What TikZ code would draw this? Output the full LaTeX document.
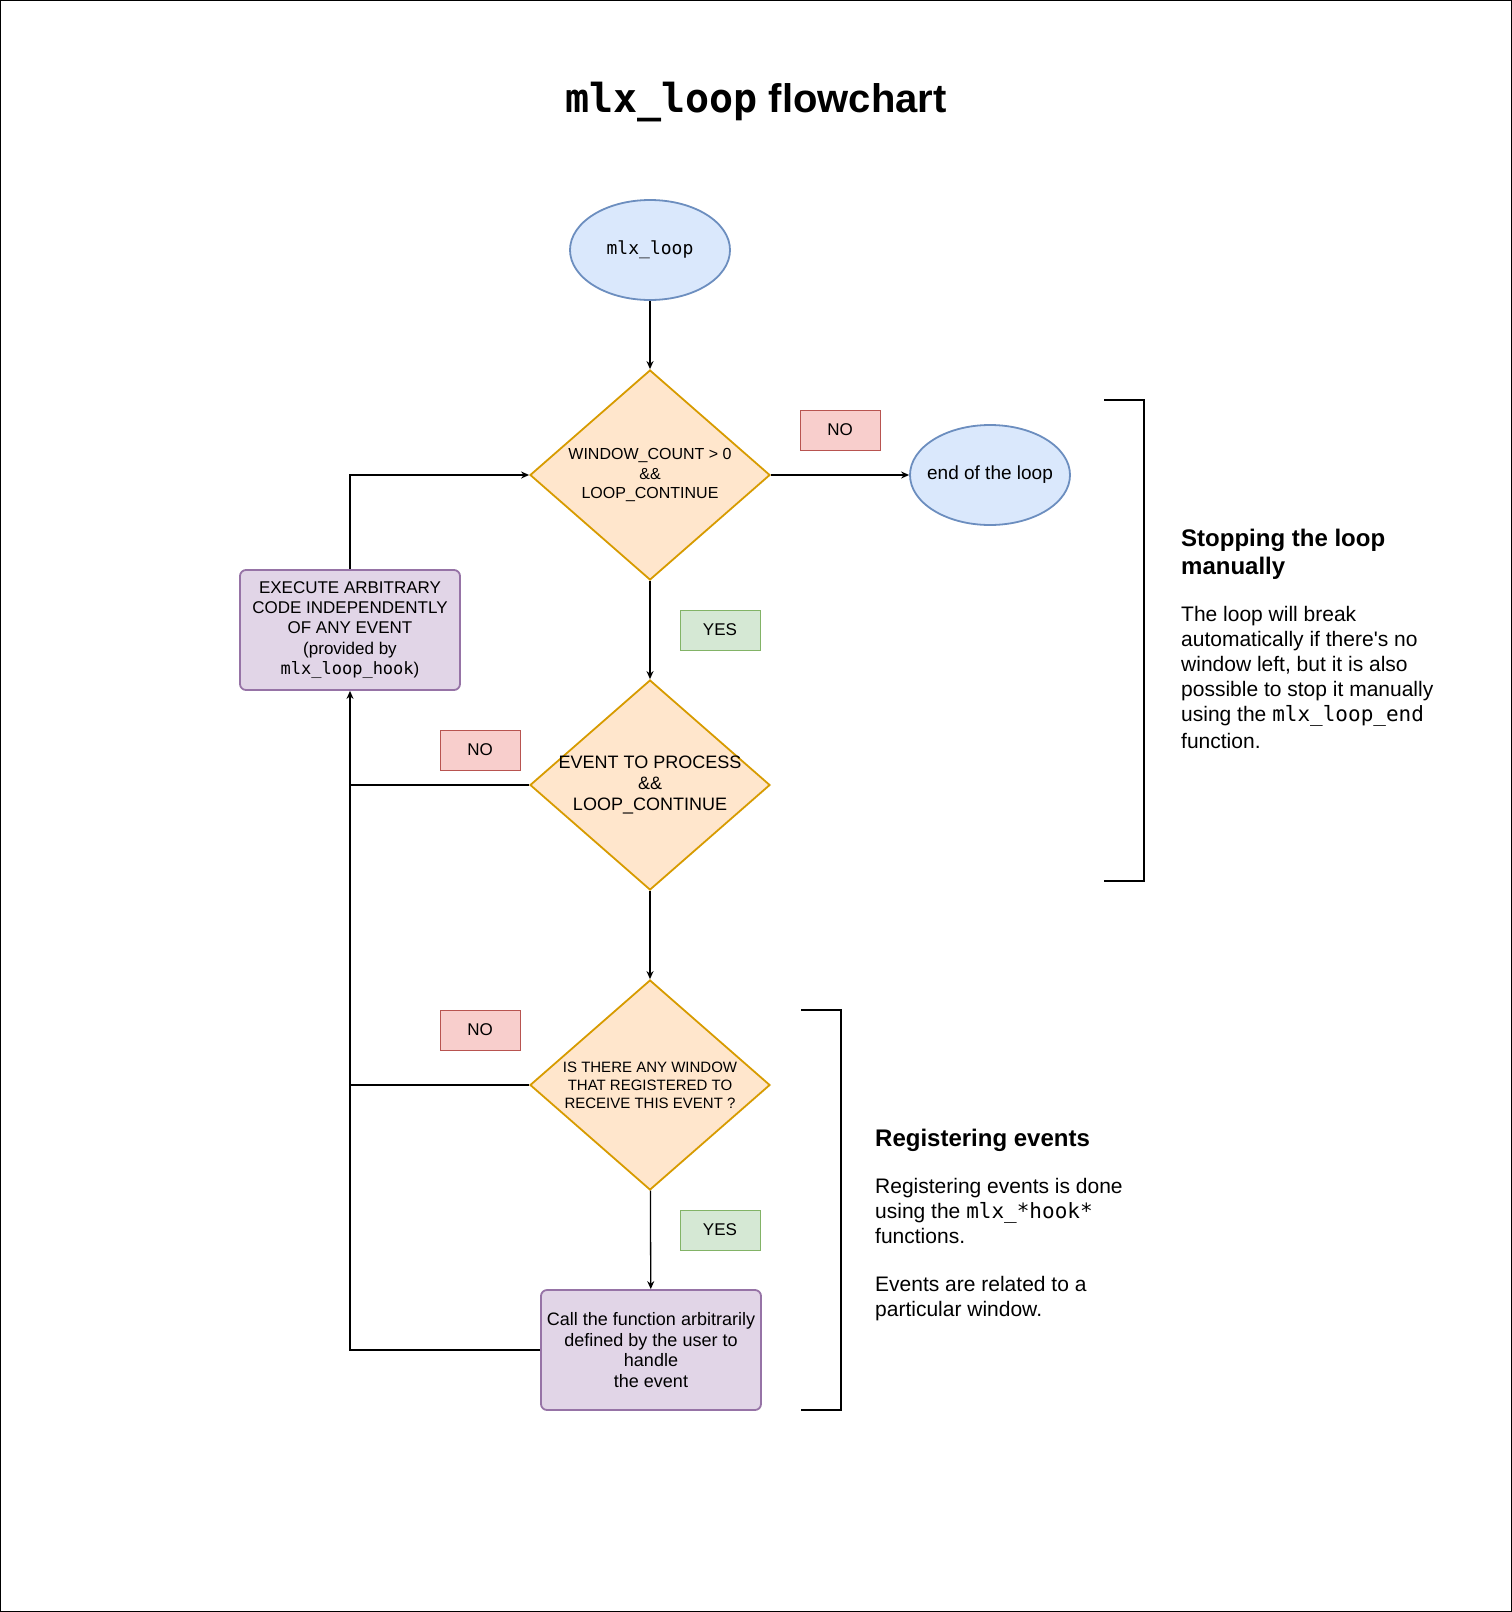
\documentclass[tikz,border=0pt]{standalone}
\usepackage{fontspec}
\setmainfont{Liberation Sans}
\setmonofont{DejaVu Sans Mono}
\usetikzlibrary{shapes.geometric,arrows.meta}
\definecolor{startFill}{HTML}{DAE8FC}
\definecolor{startLine}{HTML}{6C8EBF}
\definecolor{testFill}{HTML}{FFE6CC}
\definecolor{testLine}{HTML}{D79B00}
\definecolor{taskFill}{HTML}{E1D5E7}
\definecolor{taskLine}{HTML}{9673A6}
\definecolor{noFill}{HTML}{F8CECC}
\definecolor{noLine}{HTML}{B85450}
\definecolor{yesFill}{HTML}{D5E8D4}
\definecolor{yesLine}{HTML}{82B366}

\tikzset{
  terminal/.style={ellipse, draw=startLine, fill=startFill, line width=1.8pt,
    minimum width=160pt, minimum height=100pt, inner sep=0pt, inner xsep=-12pt},
  decision/.style={diamond, draw=testLine, fill=testFill, line width=1.8pt,
    minimum width=240pt, minimum height=210pt, aspect=1.14, inner sep=-8pt, align=center},
  task/.style={rectangle, rounded corners=6pt, draw=taskLine, fill=taskFill, line width=1.8pt,
    minimum width=220pt, minimum height=120pt, inner sep=0pt, align=center,
    font=\fontsize{17pt}{20.4pt}\selectfont},
  nobox/.style={draw=noLine, fill=noFill, line width=1pt, minimum width=80pt, minimum height=40pt,
    font=\fontsize{17pt}{20.4pt}\selectfont},
  yesbox/.style={draw=yesLine, fill=yesFill, line width=1pt, minimum width=80pt, minimum height=40pt,
    font=\fontsize{17pt}{20.4pt}\selectfont},
  flow/.style={line width=1.3pt, -{Stealth[length=8pt,width=7pt]}},
  plain/.style={line width=1.3pt},
  bracket/.style={line width=2pt},
  sidehead/.style={anchor=north west, inner sep=0pt, align=left,
    font=\fontsize{24pt}{28pt}\selectfont\bfseries},
  sidebody/.style={anchor=north west, inner sep=0pt, align=left,
    font=\fontsize{21pt}{25pt}\selectfont},
}

\begin{document}
\begin{tikzpicture}[x=1pt, y=-1pt]
  \draw[line width=1pt] (0.5,0.5) rectangle (1511.5,1611.5);
  \useasboundingbox (0,0) rectangle (1512,1612);

  \node[font=\fontsize{40pt}{48pt}\selectfont\bfseries] (title) at (756,102)
    {\texttt{mlx\_loop} flowchart};

  % main column
  \node[terminal, font=\fontsize{18pt}{21.6pt}\selectfont\ttfamily] (start) at (650,250) {mlx\_loop};
  \node[decision, font=\fontsize{16pt}{19.2pt}\selectfont] (cond1) at (650,475)
    {WINDOW\_COUNT > 0\\\&\&\\LOOP\_CONTINUE};
  \node[terminal, font=\fontsize{19pt}{22pt}\selectfont] (stop) at (990,475) {end of the loop};
  \node[decision, font=\fontsize{18pt}{20.8pt}\selectfont] (cond2) at (650,785)
    {EVENT TO PROCESS\\\&\&\\LOOP\_CONTINUE};
  \node[decision, font=\fontsize{15pt}{18pt}\selectfont] (cond3) at (650,1085)
    {IS THERE ANY WINDOW\\THAT REGISTERED TO\\RECEIVE THIS EVENT ?};
  \node[task, font=\fontsize{18pt}{20.8pt}\selectfont] (call) at (651,1350)
    {Call the function arbitrarily\\defined by the user to\\handle\\the event};
  \node[task] (exec) at (350,630)
    {EXECUTE ARBITRARY\\CODE INDEPENDENTLY\\OF ANY EVENT\\(provided by\\\texttt{mlx\_loop\_hook})};

  % yes / no tags
  \node[nobox] (no1) at (840,430) {NO};
  \node[yesbox] (yes1) at (720,630) {YES};
  \node[nobox] (no2) at (480,750) {NO};
  \node[nobox] (no3) at (480,1030) {NO};
  \node[yesbox] (yes2) at (720,1230) {YES};

  % connectors
  \draw[flow] (start) -- (cond1);
  \draw[flow] (cond1) -- (stop);
  \draw[flow] (cond1) -- (cond2);
  \draw[flow] (cond2) -- (cond3);
  \draw[flow] (cond3) -- (call);
  \draw[flow] (call.west) -| (exec.south);
  \draw[plain] (cond2.west) -- (cond2.west -| exec.south);
  \draw[plain] (cond3.west) -- (cond3.west -| exec.south);
  \draw[flow] (exec.north) |- (cond1.west);

  % side notes
  \draw[bracket] (1104,400) -- (1144,400) -- (1144,881) -- (1104,881);
  \node[sidehead] (stophead) at (1181,529) {Stopping the loop\\manually};
  \node[sidebody] (stopbody) at (1181,606)
    {The loop will break\\automatically if there\textquotesingle s no\\window left, but it is also\\possible to stop it manually\\using the \texttt{mlx\_loop\_end}\\[2pt]function.};

  \draw[bracket] (801,1010) -- (841,1010) -- (841,1410) -- (801,1410);
  \node[sidehead] (reghead) at (875,1129) {Registering events};
  \node[sidebody] (regbody) at (875,1178)
    {Registering events is done\\using the \texttt{mlx\_*hook*}\\functions.\\[23pt]Events are related to a\\particular window.};
\end{tikzpicture}
\end{document}
